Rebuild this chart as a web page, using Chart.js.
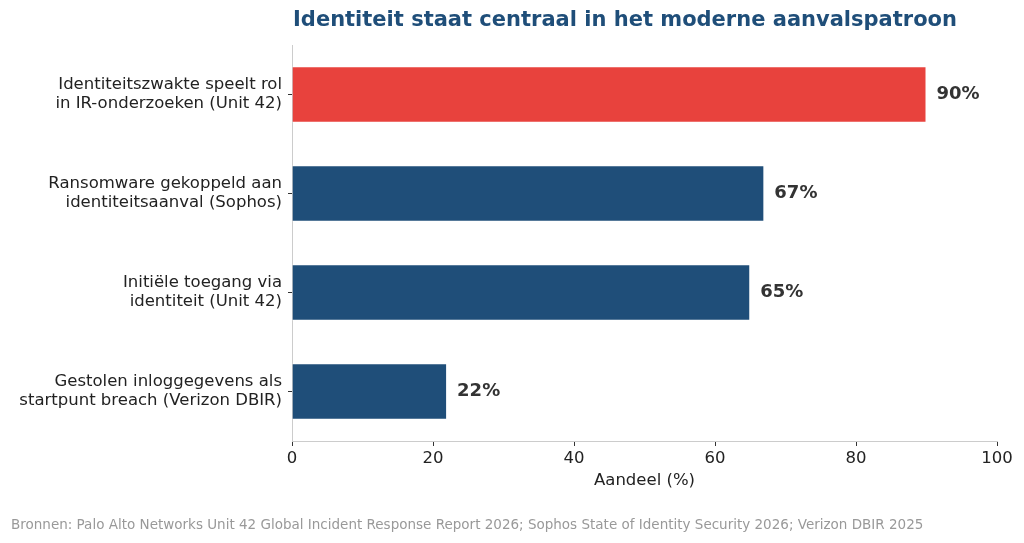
<!DOCTYPE html>
<html>
<head>
<meta charset="utf-8">
<script src="https://cdn.jsdelivr.net/npm/chart.js@4"></script>
<style>
  html, body { margin: 0; padding: 0; background: #fff; }
  #wrap { width: 1024px; height: 543px; }
</style>
</head>
<body>
<div id="wrap"><canvas id="chart"></canvas></div>
<script>
// Data
const categories = [
    ['Identiteitszwakte speelt rol', 'in IR-onderzoeken (Unit 42)'],
    ['Ransomware gekoppeld aan', 'identiteitsaanval (Sophos)'],
    ['Initiële toegang via', 'identiteit (Unit 42)'],
    ['Gestolen inloggegevens als', 'startpunt breach (Verizon DBIR)']
];
const shares = [90, 67, 65, 22];
const barColors = ['#e8423d', '#1f4e79', '#1f4e79', '#1f4e79'];
const titleText = 'Identiteit staat centraal in het moderne aanvalspatroon';
const xTitle = 'Aandeel (%)';
const sourceText = 'Bronnen: Palo Alto Networks Unit 42 Global Incident Response Report 2026; Sophos State of Identity Security 2026; Verizon DBIR 2025';

const FONT = "'DejaVu Sans', sans-serif";

// Title, footer and value labels
const textPlugin = {
    id: 'textPlugin',
    afterDraw(chart) {
        const ctx = chart.ctx;
        ctx.save();
        ctx.font = 'bold 21px ' + FONT;
        ctx.fillStyle = '#1f4e79';
        ctx.textAlign = 'center';
        ctx.textBaseline = 'middle';
        ctx.fillText(titleText, 625, 21);

        ctx.font = '13.5px ' + FONT;
        ctx.fillStyle = '#999999';
        ctx.textAlign = 'left';
        ctx.fillText(sourceText, 11, 525);

        ctx.font = 'bold 18px ' + FONT;
        ctx.fillStyle = '#333333';
        const meta = chart.getDatasetMeta(0);
        meta.data.forEach((bar, i) => {
            ctx.fillText(shares[i] + '%', bar.x + 10, bar.y);
        });
        ctx.restore();
    }
};

const ctx = document.getElementById('chart').getContext('2d');
new Chart(ctx, {
    type: 'bar',
    data: {
        labels: categories,
        datasets: [{
            data: shares,
            backgroundColor: barColors,
            borderColor: '#ffffff',
            borderWidth: 1,
            barPercentage: 0.57,
            categoryPercentage: 1
        }]
    },
    options: {
        indexAxis: 'y',
        responsive: true,
        maintainAspectRatio: false,
        animation: false,
        layout: { padding: { top: 45, right: 27, bottom: 52, left: 0 } },
        plugins: {
            legend: { display: false },
            title: { display: false },
            tooltip: { enabled: false }
        },
        scales: {
            x: {
                min: 0,
                max: 100,
                afterFit(scale) { scale.height = 50; },
                ticks: { stepSize: 20, color: '#222', font: { family: FONT, size: 16.5 }, padding: 3 },
                grid: { display: true, drawOnChartArea: false, tickLength: 5, tickColor: '#333' },
                border: { color: '#cccccc', width: 1 },
                title: { display: true, text: xTitle, color: '#222', font: { family: FONT, size: 16.5 }, padding: { top: 0, bottom: 0 } }
            },
            y: {
                afterFit(scale) { scale.width = 292; },
                ticks: { color: '#222', font: { family: FONT, size: 16.5, lineHeight: 1.15 }, padding: 6 },
                grid: { display: true, offset: false, drawOnChartArea: false, tickLength: 4, tickColor: '#333' },
                border: { color: '#cccccc', width: 1 }
            }
        }
    },
    plugins: [textPlugin]
});
</script>
</body>
</html>
